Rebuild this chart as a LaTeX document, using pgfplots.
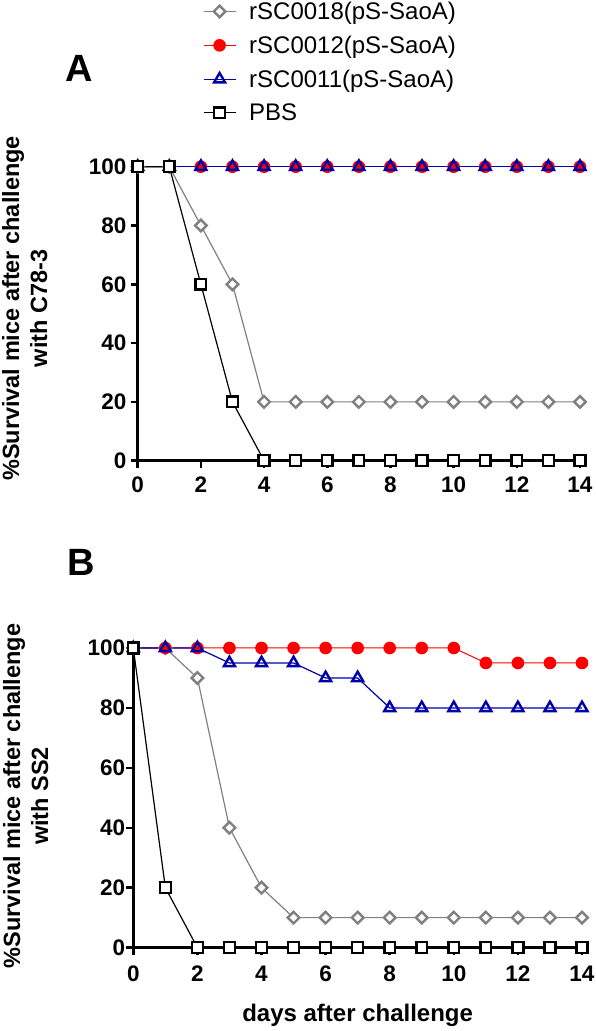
\documentclass[border=0pt]{standalone}
\usepackage{pgfplots}
\pgfplotsset{compat=1.18}
\usepackage{fontspec}
\setmainfont{Liberation Sans}
\definecolor{myred}{RGB}{255,0,0}
\definecolor{myblue}{RGB}{0,0,170}
\definecolor{mygray}{RGB}{128,128,128}

\pgfplotsset{
  panel/.style={
    scale only axis,
    axis lines=left,
    axis line style={-, line width=2.5pt},
    xmin=0, xmax=14, ymin=0, ymax=100,
    xtick={0,2,...,14}, ytick={0,20,...,100},
    tick align=outside,
    major tick length=7pt,
    every tick/.style={black, line width=2.5pt},
    tick label style={font=\fontsize{22.5}{24}\selectfont\bfseries, inner sep=0pt},
    /pgf/number format/assume math mode=true,
    clip=false,
    label style={font=\fontsize{23.5}{28}\selectfont\bfseries, inner sep=0pt, align=center},
    legend image code/.code={\draw[mark repeat=2,mark phase=2,#1] plot coordinates {(0pt,0pt) (16pt,0pt) (32pt,0pt)};},
  },
  sgray/.style={color=mygray, line width=1.2pt, mark=square*, mark size=4.1pt, mark options={rotate=45, fill=white, line width=2.4pt, solid}},
  sred/.style={color=myred, line width=1pt, mark=*, mark size=5.8pt, mark options={fill=myred, solid}},
  sblue/.style={color=myblue, line width=1.2pt, mark=triangle, mark size=6.3pt, mark options={line width=2.4pt, solid}},
  sblack/.style={color=black, line width=1.2pt, mark=square*, mark size=5.4pt, mark options={fill=white, line width=2.4pt, solid}},
}

\begin{document}
\begin{tikzpicture}
\useasboundingbox (0,0) rectangle (596pt,1031pt);

% Panel A
\begin{axis}[panel,
  at={(137.7pt,570.3pt)}, anchor=south west,
  width=442.3pt, height=294pt,
  xticklabel style={anchor=base, yshift=-25.3pt},
  yticklabel style={anchor=east, xshift=-4pt},
  ylabel={\%Survival mice after challenge\\with C78-3},
  ylabel style={at={(axis description cs:-0.3068,0.518)}, anchor=north},
  legend style={at={(axis description cs:0.1476,1.567)}, anchor=north west,
    draw=none, fill=none, inner sep=0pt, outer sep=0pt,
    font=\fontsize{24}{28}\selectfont, row sep=11pt, column sep=11pt,
    nodes={inner sep=2pt}},
  legend cell align=left,
]
\addplot[sgray] coordinates {(0,100) (1,100) (2,80) (3,60) (4,20) (5,20) (6,20) (7,20) (8,20) (9,20) (10,20) (11,20) (12,20) (13,20) (14,20)};
\addlegendentry{rSC0018(pS-SaoA)}
\addplot[sred] coordinates {(0,100) (1,100) (2,100) (3,100) (4,100) (5,100) (6,100) (7,100) (8,100) (9,100) (10,100) (11,100) (12,100) (13,100) (14,100)};
\addlegendentry{rSC0012(pS-SaoA)}
\addplot[sblue] coordinates {(0,100) (1,100) (2,100) (3,100) (4,100) (5,100) (6,100) (7,100) (8,100) (9,100) (10,100) (11,100) (12,100) (13,100) (14,100)};
\addlegendentry{rSC0011(pS-SaoA)}
\addplot[sblack] coordinates {(0,100) (1,100) (2,60) (3,20) (4,0) (5,0) (6,0) (7,0) (8,0) (9,0) (10,0) (11,0) (12,0) (13,0) (14,0)};
\addlegendentry{PBS}
\end{axis}

% Panel B
\begin{axis}[panel,
  at={(133.3pt,83.4pt)}, anchor=south west,
  width=448.7pt, height=299.6pt,
  xticklabel style={anchor=base, yshift=-27.1pt},
  yticklabel style={anchor=east, xshift=-1pt},
  xlabel={days after challenge},
  xlabel style={at={(axis description cs:0.5,-0.2473)}, anchor=base, font=\fontsize{24}{28}\selectfont\bfseries},
  ylabel={\%Survival mice after challenge\\with SS2},
  ylabel style={at={(axis description cs:-0.2905,0.506)}, anchor=north},
]
\addplot[sgray] coordinates {(0,100) (1,100) (2,90) (3,40) (4,20) (5,10) (6,10) (7,10) (8,10) (9,10) (10,10) (11,10) (12,10) (13,10) (14,10)};
\addplot[sred] coordinates {(0,100) (1,100) (2,100) (3,100) (4,100) (5,100) (6,100) (7,100) (8,100) (9,100) (10,100) (11,95) (12,95) (13,95) (14,95)};
\addplot[sblue] coordinates {(0,100) (1,100) (2,100) (3,95) (4,95) (5,95) (6,90) (7,90) (8,80) (9,80) (10,80) (11,80) (12,80) (13,80) (14,80)};
\addplot[sblack] coordinates {(0,100) (1,20) (2,0) (3,0) (4,0) (5,0) (6,0) (7,0) (8,0) (9,0) (10,0) (11,0) (12,0) (13,0) (14,0)};
\end{axis}

\node[anchor=base west, inner sep=0pt, font=\fontsize{38}{40}\selectfont\bfseries] at (65pt,949pt) {A};
\node[anchor=base west, inner sep=0pt, font=\fontsize{38}{40}\selectfont\bfseries] at (67pt,455pt) {B};
\end{tikzpicture}
\end{document}
